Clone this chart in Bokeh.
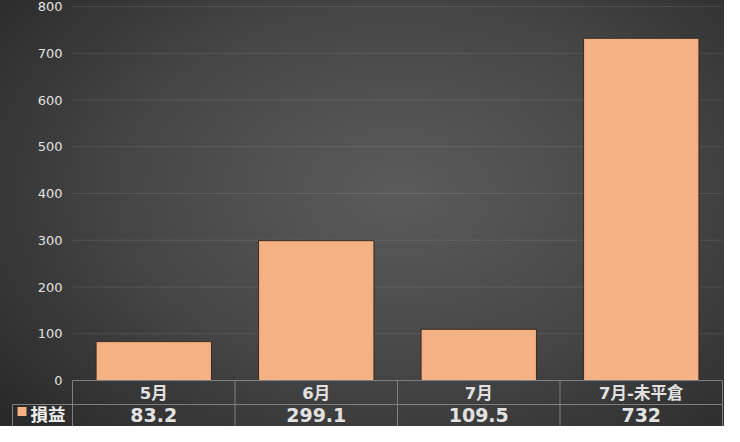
from bokeh.core.properties import value
from bokeh.embed import file_html
from bokeh.models import FixedTicker, Range1d
from bokeh.plotting import figure
from bokeh.resources import INLINE

# data
months = ["5月", "6月", "7月", "7月-未平倉"]
pnl = [83.2, 299.1, 109.5, 732]
series_name = "損益"
y_ticks = [0, 100, 200, 300, 400, 500, 600, 700, 800]

# layout (pixels inside the figure)
W, H = 724, 426
LEFT = 72          # where the first category starts
CAT_W = 162.5      # width of one category
ZERO_PX = 380      # pixel row of y = 0
PX_PER = 374 / 800

BAR = "#F4B183"
TXT = "#e2e2e2"
LINE = "#808080"


def px_x(px):
    return (px - LEFT) / CAT_W


def px_y(px):
    return -(px - ZERO_PX) / PX_PER


x_start, x_end = px_x(0), px_x(W)
y_start, y_end = px_y(H), px_y(0)
header_y = px_y(404)    # bottom of the header row
legend_x = px_x(12)     # left edge of the legend cell
row1 = px_y(392.5)
row2 = px_y(414)

p = figure(width=W, height=H, output_backend="svg", toolbar_location=None,
           x_range=Range1d(x_start, x_end), y_range=Range1d(y_start, y_end),
           min_border=0)
p.styles = {"background": "radial-gradient(ellipse 80% 90% at 55% 45%, "
                          "#5b5b5b 0%, #474747 45%, #222222 100%)"}
p.background_fill_color = None
p.border_fill_color = None
p.outline_line_color = None
p.xaxis.visible = False
p.xgrid.visible = False
p.ygrid.visible = False

yax = p.yaxis[0]
yax.fixed_location = 0
yax.ticker = FixedTicker(ticks=y_ticks)
yax.axis_line_color = None
yax.major_tick_line_color = None
yax.minor_tick_line_color = None
yax.major_tick_out = 0
yax.major_label_standoff = 10
yax.major_label_text_color = TXT
yax.major_label_text_font = "DejaVu Sans"
yax.major_label_text_font_size = "13px"

# gridlines, from the tick list
grid = y_ticks[1:]
n = len(months)
p.segment(x0=[0] * len(grid), x1=[n] * len(grid), y0=grid, y1=grid,
          line_color="white", line_alpha=0.1, line_width=1)

centers = [i + 0.5 for i in range(n)]
p.vbar(x=centers, top=pnl, bottom=0, width=0.71, fill_color=BAR,
       line_color="#3a2a22", line_width=1)

# data table
hx0 = [0, legend_x]
hx1 = [n, n]
hy = [0, header_y]
p.segment(x0=hx0, x1=hx1, y0=hy, y1=hy, line_color=LINE, line_width=1)
vx = list(range(n + 1)) + [legend_x]
vtop = [0] * (n + 1) + [header_y]
p.segment(x0=vx, x1=vx, y0=vtop, y1=[y_start] * len(vx),
          line_color=LINE, line_width=1)

p.text(x=centers, y=[row1] * n, text=months, text_align="center",
       text_baseline="middle", text_color=TXT, text_font_style="bold",
       text_font=value("DejaVu Sans, Noto Sans CJK TC"), text_font_size="16.5px")
p.text(x=centers, y=[row2] * n, text=[f"{v:g}" for v in pnl],
       text_align="center", text_baseline="middle", text_color=TXT,
       text_font_style="bold", text_font=value("DejaVu Sans"),
       text_font_size="19px")

# legend key in the first cell
p.scatter(x=[px_x(21.5)], y=[px_y(411)], marker="square", size=9,
          fill_color=BAR, line_color=None)
p.text(x=[px_x(30)], y=[px_y(413)], text=[series_name],
       text_align="left", text_baseline="middle", text_color="#f0f0f0",
       text_font_style="bold", text_font=value("Noto Sans CJK TC"),
       text_font_size="17.5px")

open("out.html", "w").write(file_html(p, INLINE))
